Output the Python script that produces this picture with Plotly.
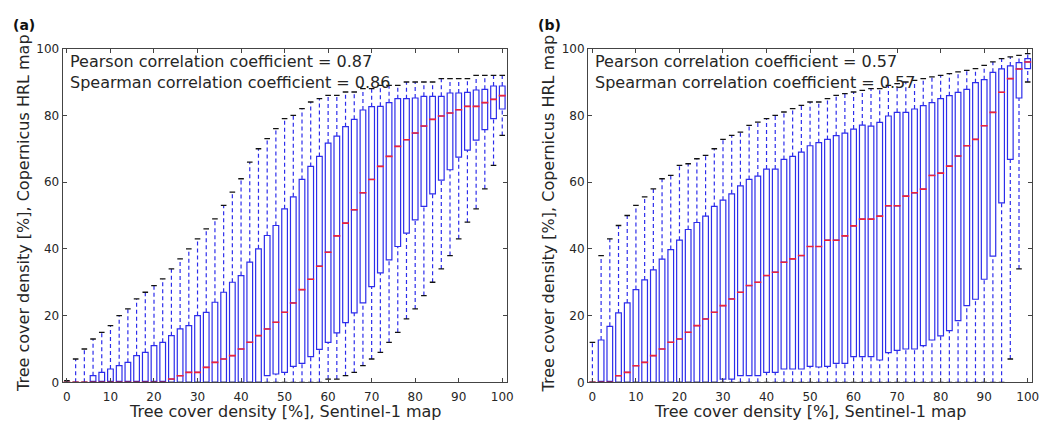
import plotly.graph_objects as go

# ---------------- data ----------------
positions = list(range(0, 101, 2))

# Panel (a)
a_upper = [0.5, 7, 10, 13, 15, 17, 20, 22, 25, 27, 29, 31, 34, 37, 40, 43, 46, 49, 53, 57,
           61, 66, 70, 73, 76, 79, 80, 82, 84, 85, 86, 86, 87, 87, 88, 88, 89, 89, 89, 90,
           90, 90, 90, 91, 91, 91, 91, 92, 92, 92, 92]
a_q3 = [0, 0, 0, 2, 3, 4, 5, 6, 8, 9, 11, 12, 14, 16, 17, 20, 21, 24, 27, 30,
        32, 36, 40, 44, 47, 52, 55.6, 60.8, 64.7, 67.7, 71.7, 73.8, 76.6, 78.8, 81.6, 82.6, 82.7, 83.8, 85, 85,
        85.2, 85.7, 85.7, 85.7, 86.7, 86.7, 86.9, 87.6, 87.8, 88.8, 88.8]
a_median = [0, 0, 0, 0, 0, 0, 0, 0, 0, 0, 0, 0, 1, 2, 3, 3, 4.5, 6, 7, 8,
            10, 12, 14, 16, 18, 21, 23.8, 27.8, 30.9, 34.8, 39, 43.9, 47.7, 51.7, 56.8, 60.8, 64.7, 67.7, 70.7, 72.7,
            74.7, 76.8, 78.8, 79.8, 80.7, 81.7, 82.7, 82.7, 83.8, 84.8, 85.9]
a_q1 = [0, 0, 0, 0, 0, 0, 0, 0, 0, 0, 0, 0, 0, 0, 0, 0, 0, 0, 0, 0,
        0, 0, 0, 2, 2.5, 3, 4.8, 5.7, 7.7, 9.9, 12, 14.8, 17.9, 20.8, 23.8, 28.7, 32.8, 36.7, 40.7, 44.7,
        48.7, 52.7, 56.5, 60.6, 63.7, 67.5, 69.6, 72.6, 75.7, 79, 81.9]
a_lower = [0, 0, 0, 0, 0, 0, 0, 0, 0, 0, 0, 0, 0, 0, 0, 0, 0, 0, 0, 0,
           0, 0, 0, 0, 0, 0, 0, 0, 0, 0, 1, 1, 2, 3, 5, 7, 9, 12, 15, 19,
           22, 26, 30, 34, 38, 43, 48, 52, 58, 65, 74]

# Panel (b)
b_upper = [12, 38, 43, 47, 50, 53, 55.6, 58, 61, 62, 65, 65.5, 67, 68, 70, 72.8, 74, 75, 77, 78,
           79, 80, 81, 82, 83, 84, 84, 85, 86, 86.5, 87, 87.5, 88, 88, 89, 89.5, 90, 90.5, 91, 91.5,
           92, 92.5, 93, 93.5, 94, 95, 96, 97, 97.5, 98, 98.5]
b_q3 = [0, 12.7, 16.8, 20.8, 23.8, 27.8, 30.7, 33.7, 36.9, 39.8, 42.6, 45.8, 47.9, 49.8, 52.7, 54.6, 56.5, 58.9, 60.8, 61.8,
        63.9, 63.9, 66.8, 67.7, 69, 70.9, 71.8, 72.8, 73.9, 74.7, 75.9, 77.1, 76.8, 77.9, 79.8, 80.9, 80.9, 81.9, 82.9, 83.8,
        85, 85.9, 86.9, 87.8, 89.8, 90.7, 92.9, 93.9, 94.8, 95.8, 97]
b_median = [0, 0, 0, 2, 3, 5, 6, 8, 10, 12, 13, 15, 17, 19, 21, 23, 25, 27, 29, 30,
            32, 33, 36, 37, 38, 40.7, 40.7, 42.6, 42.6, 43.9, 46.9, 48.9, 48.9, 49.8, 52.9, 52.9, 55.8, 56.8, 57.9, 62,
            62.7, 64.8, 67.8, 70.9, 72.8, 76.9, 80.9, 86.9, 91, 93.9, 96]
b_q1 = [0, 0, 0, 0, 0, 0, 0, 0, 0, 0, 0, 0, 0, 0, 0, 1, 1, 2, 2, 2,
        3, 3, 4, 4, 4, 4.8, 4.6, 4.8, 5.7, 5.7, 7.7, 7.7, 7.7, 6.7, 8.9, 9.6, 10, 10, 11, 12.7,
        13.9, 15.5, 18.5, 23, 24.9, 30.9, 37.8, 53.8, 66.8, 85.2, 94]
b_lower = [0] * 48 + [7, 34, 90]

panels = [
    dict(xa="x", ya="y", upper=a_upper, q3=a_q3, med=a_median, q1=a_q1, lower=a_lower),
    dict(xa="x2", ya="y2", upper=b_upper, q3=b_q3, med=b_median, q1=b_q1, lower=b_lower),
]
labels = ["(a)", "(b)"]
pearson = ["0.87", "0.57"]
spearman = ["0.86", "0.57"]

BLUE = "rgb(45,45,235)"
RED = "rgb(238,35,60)"
TXT = "#262626"
FONT = "DejaVu Sans"

fig = go.Figure()

for p in panels:
    wx, wy = [], []
    for x, lo, a, b, hi in zip(positions, p["lower"], p["q1"], p["q3"], p["upper"]):
        if hi > b:
            wx += [x, x, None]
            wy += [b, hi, None]
        if lo < a:
            wx += [x, x, None]
            wy += [lo, a, None]
    fig.add_trace(go.Scatter(x=wx, y=wy, mode="lines", xaxis=p["xa"], yaxis=p["ya"],
                             line=dict(color=BLUE, width=1.2, dash="4px,3px"),
                             hoverinfo="skip", showlegend=False))
    fig.add_trace(go.Box(x=positions, q1=p["q1"], median=p["med"], q3=p["q3"],
                         lowerfence=p["q1"], upperfence=p["q3"], orientation="v",
                         width=1.3, whiskerwidth=0, boxpoints=False,
                         fillcolor="rgba(0,0,0,0)", line=dict(color=BLUE, width=1.2),
                         xaxis=p["xa"], yaxis=p["ya"], hoverinfo="skip", showlegend=False))
    fig.add_trace(go.Scatter(x=positions, y=p["med"], mode="markers", xaxis=p["xa"], yaxis=p["ya"],
                             marker=dict(symbol="line-ew", size=5,
                                         line=dict(color=RED, width=1.6)),
                             hoverinfo="skip", showlegend=False))
    fig.add_trace(go.Scatter(x=positions + positions, y=p["upper"] + p["lower"], mode="markers",
                             xaxis=p["xa"], yaxis=p["ya"],
                             marker=dict(symbol="line-ew", size=4,
                                         line=dict(color="#111", width=1.3)),
                             hoverinfo="skip", showlegend=False))

W, H = 1049, 430
dom_a = [63 / W, 510 / W]
dom_b = [592 / W, 1039 / W]
dom_y = [1 - 388 / H, 1 - 43 / H]

axis_common = dict(showline=True, linecolor="#444", linewidth=1, mirror="allticks",
                   ticks="inside", ticklen=4, tickcolor="#444", showgrid=False, zeroline=False,
                   tickfont=dict(family=FONT, size=12, color=TXT))

fig.update_layout(
    width=W, height=H, margin=dict(l=0, r=0, t=0, b=0),
    paper_bgcolor="white", plot_bgcolor="white", showlegend=False,
    xaxis=dict(domain=dom_a, range=[-1, 101], tickvals=list(range(0, 101, 10)), anchor="y",
               ticklabelstandoff=3, **axis_common),
    yaxis=dict(domain=dom_y, range=[0, 100], tickvals=list(range(0, 101, 20)), anchor="x", **axis_common),
    xaxis2=dict(domain=dom_b, range=[-1, 101], tickvals=list(range(0, 101, 10)), anchor="y2",
                ticklabelstandoff=3, **axis_common),
    yaxis2=dict(domain=dom_y, range=[0, 100], tickvals=list(range(0, 101, 20)), anchor="x2", **axis_common),
)

annotations = []
for i, (dom, lab) in enumerate(zip([dom_a, dom_b], labels)):
    left_px = dom[0] * W
    cx = (dom[0] + dom[1]) / 2
    annotations.append(dict(xref="paper", yref="paper", x=(left_px + 5) / W, y=1 - 67 / H,
                            xanchor="left", yanchor="middle", align="left", showarrow=False,
                            text=(f"Pearson correlation coefficient = {pearson[i]}<br>"
                                  f"Spearman correlation coefficient = {spearman[i]}"),
                            font=dict(family=FONT, size=16, color=TXT)))
    annotations.append(dict(xref="paper", yref="paper", x=cx, y=0,
                            xanchor="center", yanchor="bottom", showarrow=False,
                            text="Tree cover density [%], Sentinel-1 map",
                            font=dict(family=FONT, size=16, color=TXT)))
    annotations.append(dict(xref="paper", yref="paper", x=(left_px - 40) / W, y=1 - 213 / H,
                            xanchor="center", yanchor="middle", showarrow=False, textangle=-90,
                            text="Tree cover density [%], Copernicus HRL map",
                            font=dict(family=FONT, size=16, color=TXT)))
    annotations.append(dict(xref="paper", yref="paper", x=(left_px - 39) / W, y=1 - 19 / H,
                            xanchor="center", yanchor="middle", showarrow=False,
                            text=f"<b>{lab}</b>",
                            font=dict(family=FONT, size=14, color="#111")))
fig.update_layout(annotations=annotations)

fig.write_html("out.html")
